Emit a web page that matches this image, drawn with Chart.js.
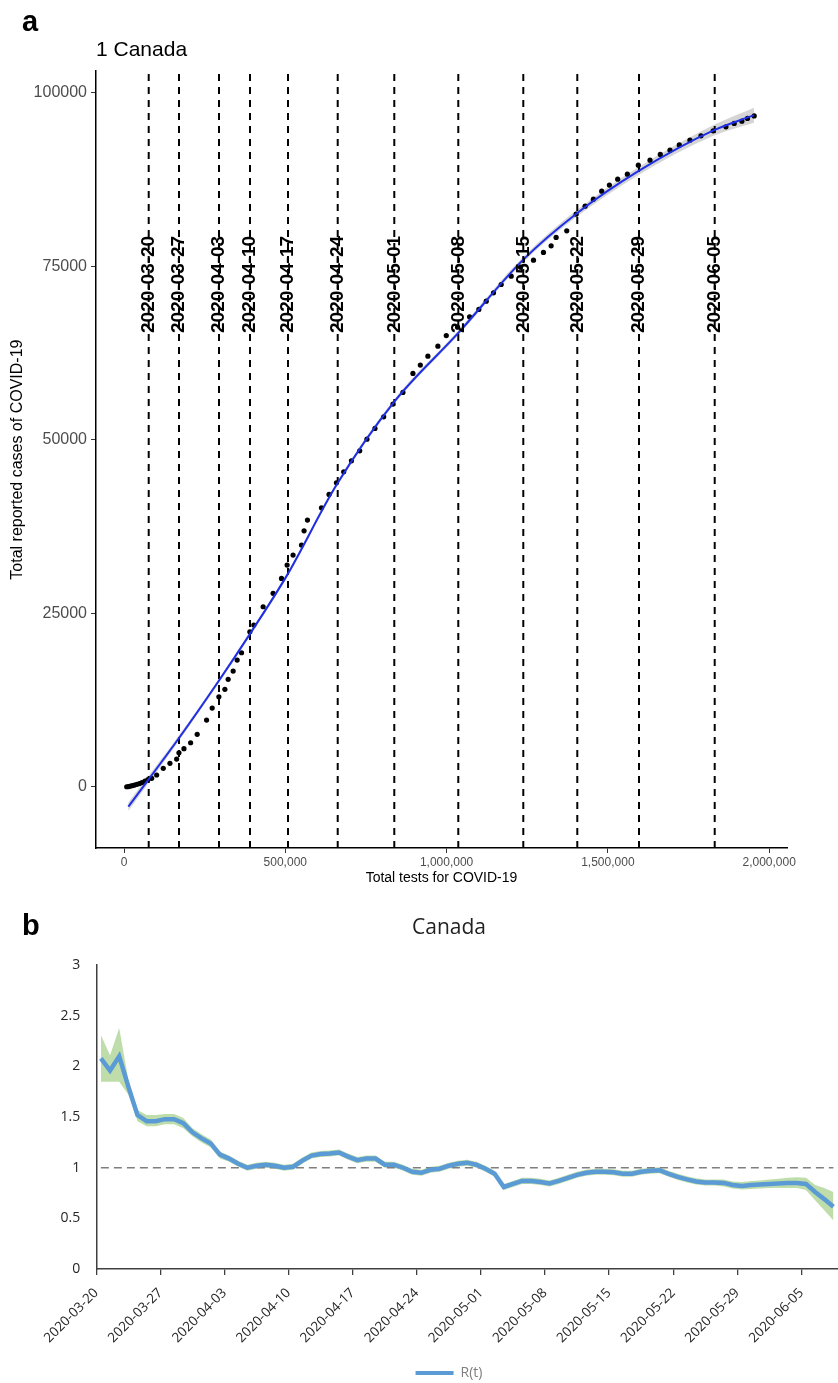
<!DOCTYPE html>
<html>
<head>
<meta charset="utf-8">
<script src="https://cdn.jsdelivr.net/npm/chart.js@4.4.1/dist/chart.umd.min.js"></script>
<style>
  body { margin: 0; background: #fff; }
  #wrap { position: relative; width: 838px; height: 1383px; overflow: hidden; }
  .panel { position: absolute; left: 0; }
  .tag { position: absolute; left: 22px; font: bold 29px "Liberation Sans", Arial, sans-serif; line-height: 29px; color: #000; }
</style>
</head>
<body>
<div id="wrap">
  <canvas id="chartA" class="panel" style="top:0" width="838" height="900"></canvas>
  <canvas id="chartB" class="panel" style="top:880px" width="838" height="513"></canvas>
  <div class="tag" style="top:7px">a</div>
  <div class="tag" style="top:911px">b</div>
</div>
<script>
// ---- panel a: cases vs tests ----
const testsTotal = [8400,13900,20100,26300,32500,40200,48000,55700,65000,74300,
  85800,101200,121700,142400,163200,170300,185800,206500,226900,256000,
  273400,294100,312700,322900,338400,350800,364400,390100,402500,431300,
  462200,488200,505600,524100,550200,558200,568700,612100,635600,658500,
  681100,705000,730700,753200,778000,805000,833800,864700,895700,918600,
  942100,973100,999100,1034100,1071200,1100000,1122900,1145500,1169300,1200300,
  1229100,1269400,1300300,1324100,1339600,1372500,1401600,1429400,1455100,1480800,
  1504700,1530400,1560400,1594400,1630600,1662500,1692600,1721400,1754500,1788600,
  1826600,1866000,1891700,1915500,1932800,1953600];
const casesTotal = [0,30,100,170,240,350,460,600,820,1040,
  1210,1690,2650,3370,3990,4900,5480,6340,7550,9610,
  11340,12970,14040,15480,16670,18260,19310,22340,23300,25940,
  27870,30030,31950,33390,34830,36890,38430,40200,42130,43810,
  45390,46980,48420,50100,51650,53320,55150,56830,59570,60770,
  62060,63500,65020,66240,67730,68790,69990,71190,72390,73590,
  74890,75900,77010,77960,79170,80120,82530,83680,84690,85840,
  86720,87570,88290,89590,90310,91130,91750,92510,93190,93810,
  94530,95110,95600,95930,96320,96690];

const fitTests = [13300,173400,291950,390100,505600,658500,836800,1035000,1236200,1403400,1594400,1829100,1952900];
const fitCases = [-2880,7205,15130,22000,30500,43480,55440,65340,75900,82630,88720,94630,96790];
const fitLow   = [-3500,6800,14800,21700,30200,43150,55100,65000,75500,82150,88150,93850,95700];
const fitHigh  = [-2260,7610,15460,22300,30800,43810,55780,65680,76300,83110,89290,95410,97880];

const weekDates = ['2020-03-20','2020-03-27','2020-04-03','2020-04-10','2020-04-17','2020-04-24',
  '2020-05-01','2020-05-08','2020-05-15','2020-05-22','2020-05-29','2020-06-05'];
const weekTests = [76600,170500,294500,390600,508400,662500,837900,1036300,1237800,1405200,1596500,1831200];

const xTicksA = [0, 500000, 1000000, 1500000, 2000000];
const yTicksA = [0, 25000, 50000, 75000, 100000];
const xMinA = -86800, xMaxA = 2055300, yMinA = -8830, yMaxA = 103130;
const labelLevel = 72400;

// ---- panel b: R(t) ----
const rStart = '2020-03-20';
const rMean = [2.08,1.96,2.10,1.80,1.52,1.46,1.46,1.48,1.48,1.44,
  1.35,1.29,1.24,1.13,1.09,1.04,1.00,1.02,1.03,1.02,
  1.00,1.01,1.07,1.12,1.135,1.14,1.15,1.11,1.075,1.09,
  1.09,1.03,1.03,1.00,0.96,0.95,0.98,0.99,1.02,1.04,
  1.05,1.03,0.99,0.94,0.81,0.84,0.87,0.87,0.86,0.845,
  0.87,0.90,0.93,0.95,0.96,0.96,0.955,0.94,0.94,0.96,
  0.97,0.975,0.94,0.91,0.885,0.865,0.855,0.855,0.85,0.83,
  0.82,0.83,0.835,0.84,0.845,0.85,0.85,0.84,0.76,0.69,0.615];
const rHigh = [2.31,2.11,2.38,1.87,1.57,1.52,1.52,1.53,1.53,1.49,
  1.39,1.33,1.28,1.16,1.12,1.07,1.03,1.05,1.06,1.05,
  1.03,1.04,1.10,1.15,1.165,1.17,1.18,1.14,1.105,1.12,
  1.12,1.06,1.06,1.03,0.99,0.98,1.01,1.02,1.05,1.07,
  1.08,1.06,1.02,0.97,0.84,0.87,0.90,0.90,0.89,0.875,
  0.90,0.93,0.96,0.98,0.99,0.99,0.985,0.97,0.97,0.99,
  1.00,1.005,0.97,0.94,0.915,0.895,0.885,0.885,0.885,0.865,
  0.86,0.87,0.875,0.885,0.89,0.90,0.905,0.90,0.83,0.80,0.76];
const rLow = [1.85,1.85,1.85,1.72,1.46,1.41,1.41,1.43,1.43,1.39,
  1.31,1.25,1.20,1.09,1.06,1.01,0.97,0.99,1.00,0.99,
  0.97,0.98,1.04,1.09,1.105,1.11,1.12,1.08,1.045,1.06,
  1.06,1.00,1.00,0.97,0.93,0.92,0.95,0.96,0.99,1.01,
  1.02,1.00,0.96,0.91,0.78,0.81,0.84,0.84,0.83,0.815,
  0.84,0.87,0.90,0.92,0.93,0.93,0.925,0.91,0.91,0.93,
  0.94,0.945,0.91,0.88,0.855,0.835,0.825,0.825,0.815,0.795,
  0.785,0.79,0.795,0.80,0.80,0.80,0.80,0.78,0.68,0.58,0.48];
const rThreshold = 1;
const tickDatesB = ['2020-03-20','2020-03-27','2020-04-03','2020-04-10','2020-04-17','2020-04-24',
  '2020-05-01','2020-05-08','2020-05-15','2020-05-22','2020-05-29','2020-06-05'];
const yTicksB = [0, 0.5, 1, 1.5, 2, 2.5, 3];

// ---------------------------------------------------------------
const arial = '"Liberation Sans", Arial, sans-serif';
const calibri = '"Open Sans", "Noto Sans", sans-serif';

const pts = (xs, ys) => xs.map((x, i) => ({x: x, y: ys[i]}));

const dateLabels = {
  id: 'dateLabels',
  afterDatasetsDraw(chart) {
    const {ctx, scales: {x, y}} = chart;
    ctx.save();
    ctx.font = 'bold 19px ' + arial;
    ctx.fillStyle = '#000';
    ctx.textAlign = 'center';
    ctx.textBaseline = 'middle';
    weekDates.forEach((d, i) => {
      ctx.save();
      ctx.translate(x.getPixelForValue(weekTests[i]), y.getPixelForValue(labelLevel));
      ctx.rotate(-Math.PI / 2);
      ctx.fillText(d, 0, 0);
      ctx.restore();
    });
    ctx.restore();
  }
};

const vlines = weekTests.map(t => ({
  data: [{x: t, y: yMinA}, {x: t, y: yMaxA}],
  showLine: true, borderColor: '#000', borderWidth: 2, borderDash: [7, 6],
  pointRadius: 0, order: 1
}));

new Chart(document.getElementById('chartA'), {
  type: 'scatter',
  data: {
    datasets: [
      { data: pts(fitTests, fitCases), showLine: true, borderColor: '#1f2fe6', borderWidth: 2,
        pointRadius: 0, cubicInterpolationMode: 'monotone', order: 0 },
      { data: pts(testsTotal, casesTotal), backgroundColor: '#000', borderWidth: 0,
        pointRadius: 2.6, order: 2 },
      { data: pts(fitTests, fitHigh), showLine: true, borderWidth: 0, pointRadius: 0,
        cubicInterpolationMode: 'monotone', fill: '+1', backgroundColor: 'rgba(150,150,150,0.4)', order: 3 },
      { data: pts(fitTests, fitLow), showLine: true, borderWidth: 0, pointRadius: 0,
        cubicInterpolationMode: 'monotone', order: 4 },
      ...vlines
    ]
  },
  options: {
    responsive: false, animation: false, events: [],
    layout: { padding: { left: 0, right: 51, top: 0, bottom: 0 } },
    plugins: {
      legend: { display: false },
      tooltip: { enabled: false },
      title: { display: true, text: '1 Canada', align: 'start', fullSize: false, color: '#000',
        font: { family: arial, size: 21, weight: 'normal' }, padding: { top: 38, bottom: 8 } }
    },
    scales: {
      x: {
        type: 'linear', min: xMinA, max: xMaxA,
        afterBuildTicks: s => { s.ticks = xTicksA.map(v => ({value: v})); },
        afterFit: s => { s.height = 52; },
        grid: { display: true, drawOnChartArea: false, tickLength: 5, color: '#333' },
        border: { display: true, color: '#000', width: 1.5 },
        ticks: { color: '#4d4d4d', font: { family: arial, size: 12 }, padding: 2,
          maxRotation: 0, autoSkip: false, callback: v => v.toLocaleString('en-US') },
        title: { display: true, text: 'Total tests for COVID-19', color: '#000',
          font: { family: arial, size: 14 }, padding: { top: 0, bottom: 13 } }
      },
      y: {
        min: yMinA, max: yMaxA,
        afterBuildTicks: s => { s.ticks = yTicksA.map(v => ({value: v})); },
        afterFit: s => { s.width = 96; },
        grid: { display: true, drawOnChartArea: false, tickLength: 5, color: '#333' },
        border: { display: true, color: '#000', width: 1.5 },
        ticks: { color: '#4d4d4d', font: { family: arial, size: 16 }, padding: 4,
          callback: v => String(v) },
        title: { display: true, text: 'Total reported cases of COVID-19', color: '#000',
          font: { family: arial, size: 16 }, padding: { top: 8, bottom: 0 } }
      }
    }
  },
  plugins: [dateLabels]
});

// ---------------------------------------------------------------
const dayMs = 86400000;
const dayIndex = d => Math.round((Date.parse(d) - Date.parse(rStart)) / dayMs);
const seriesB = arr => arr.map((v, i) => ({x: i, y: v}));

new Chart(document.getElementById('chartB'), {
  type: 'scatter',
  data: {
    datasets: [
      { label: 'R(t)', data: seriesB(rMean), showLine: true, borderColor: '#5b9bd5',
        backgroundColor: '#5b9bd5', borderWidth: 4.5, pointRadius: 0, order: 0 },
      { label: 'threshold', data: seriesB(rMean.map(() => rThreshold)), showLine: true,
        borderColor: '#7f7f7f', borderWidth: 1.5, borderDash: [8, 5], pointRadius: 0, order: 1 },
      { label: 'upper', data: seriesB(rHigh), showLine: true, borderWidth: 0, pointRadius: 0,
        fill: '+1', backgroundColor: 'rgba(169,209,142,0.75)', order: 2 },
      { label: 'lower', data: seriesB(rLow), showLine: true, borderWidth: 0, pointRadius: 0, order: 3 }
    ]
  },
  options: {
    responsive: false, animation: false, events: [],
    layout: { padding: { left: 60, right: 0, top: 0, bottom: 3 } },
    plugins: {
      tooltip: { enabled: false },
      title: { display: true, text: 'Canada', color: '#222',
        font: { family: calibri, size: 21, weight: 'normal' }, padding: { top: 35, bottom: 25 } },
      legend: {
        display: true, position: 'bottom',
        labels: {
          color: '#7f7f7f', font: { family: calibri, size: 14 }, boxWidth: 38, boxHeight: 4, padding: 10,
          generateLabels: () => [{ text: 'R(t)', fillStyle: '#5b9bd5', strokeStyle: '#5b9bd5',
            lineWidth: 0, hidden: false, datasetIndex: 0, fontColor: '#7f7f7f' }]
        }
      }
    },
    scales: {
      x: {
        type: 'linear', min: -0.5, max: rMean.length - 0.5,
        afterBuildTicks: s => { s.ticks = tickDatesB.map(d => ({value: dayIndex(d) - 0.5})); },
        afterFit: s => { s.height = 87; },
        grid: { display: true, drawOnChartArea: false, tickLength: 6, color: '#404040', lineWidth: 1.3 },
        border: { display: true, color: '#404040', width: 1.5 },
        ticks: { color: '#262626', font: { family: calibri, size: 13.5 }, padding: 10,
          minRotation: 45, maxRotation: 45, autoSkip: false,
          callback: (v, i) => tickDatesB[i] }
      },
      y: {
        min: 0, max: 3,
        afterBuildTicks: s => { s.ticks = yTicksB.map(v => ({value: v})); },
        afterFit: s => { s.width = 36.3; },
        grid: { display: false, drawTicks: false },
        border: { display: true, color: '#404040', width: 1.5 },
        ticks: { color: '#262626', font: { family: calibri, size: 14 }, padding: 16,
          callback: v => String(v) }
      }
    }
  }
});
</script>
</body>
</html>
